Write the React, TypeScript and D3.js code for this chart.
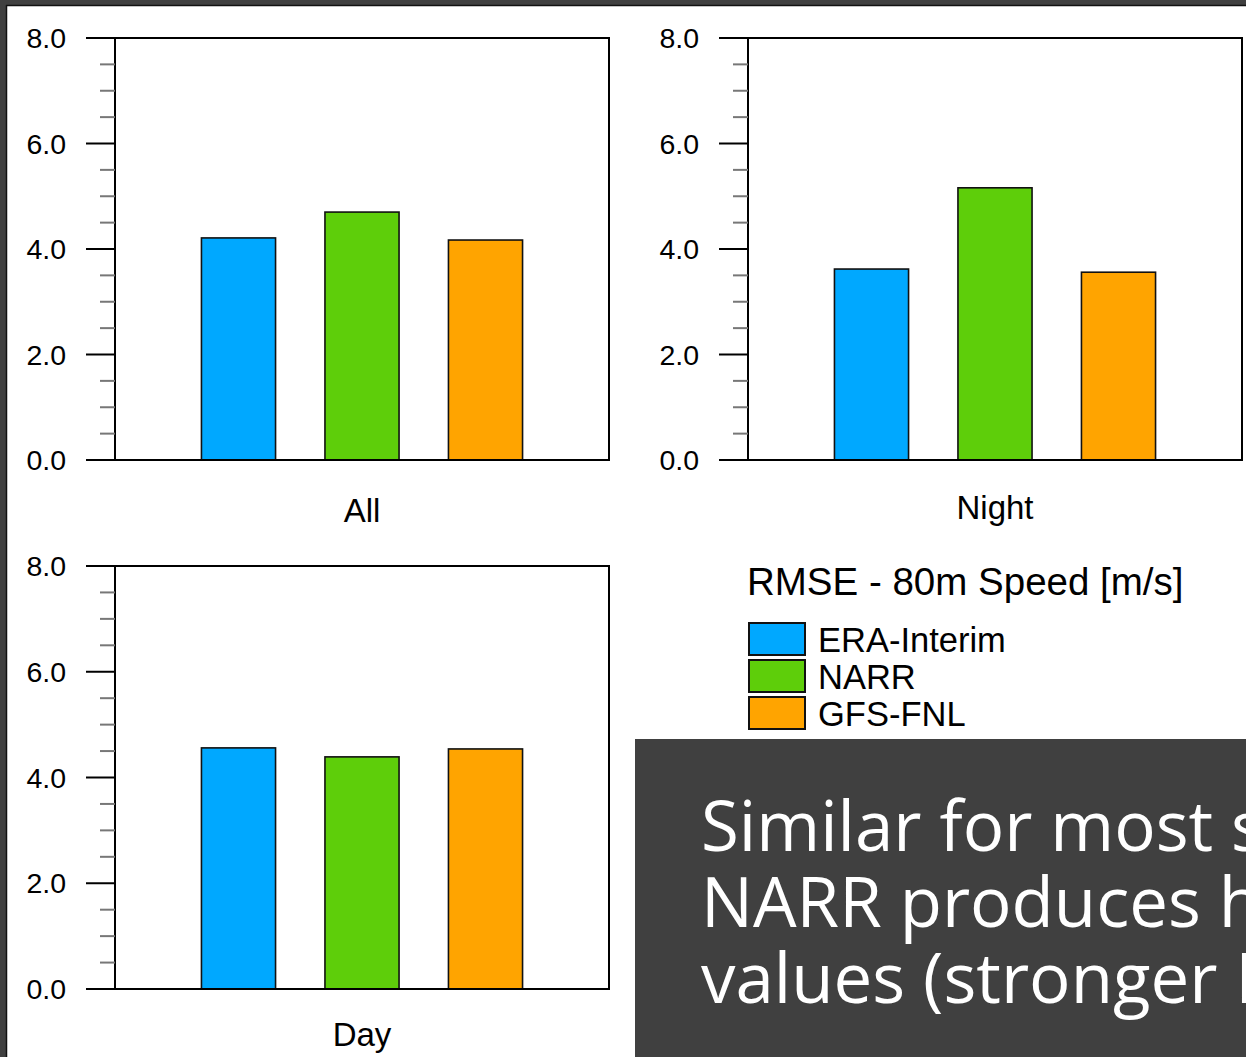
import React, { useEffect } from "react";
import * as d3 from "d3";

const periods = ["All", "Night", "Day"];
const datasets = ["ERA-Interim", "NARR", "GFS-FNL"];
const eraValues = [4.21, 3.62, 4.56];
const narrValues = [4.7, 5.16, 4.39];
const gfsValues = [4.17, 3.56, 4.54];
const yTickValues = [0, 2, 4, 6, 8];
const colors = ["#00A8FF", "#5ECE0A", "#FFA400"];
const legendTitle = "RMSE - 80m Speed [m/s]";
const noteLines = ["Similar for most stations", "NARR produces higher", "values (stronger LLJ)"];

const panels = [
  { left: 115, top: 38, bottom: 460, labelY: 522 },
  { left: 748, top: 38, bottom: 460, labelY: 519 },
  { left: 115, top: 566, bottom: 989, labelY: 1046 },
];
const plotW = 494;
const font = "'Liberation Sans', Arial, Helvetica, sans-serif";

function Panel({ idx }: { idx: number }) {
  const p = panels[idx];
  const x = d3.scaleLinear().domain([0, 4]).range([p.left, p.left + plotW]);
  const y = d3.scaleLinear().domain([0, 8]).range([p.bottom, p.top]);
  const vals = [eraValues[idx], narrValues[idx], gfsValues[idx]];
  const minor = d3.range(0, 8.001, 0.5).filter((v) => Math.abs(v % 2) > 1e-6);
  const bw = 0.6;
  return (
    <g>
      {vals.map((v, i) => (
        <rect
          key={i}
          x={x(i + 1 - bw / 2)}
          y={y(v)}
          width={x(bw) - x(0)}
          height={y(0) - y(v)}
          fill={colors[i]}
          stroke="#111"
          strokeWidth={1.6}
        />
      ))}
      <rect x={p.left} y={p.top} width={plotW} height={p.bottom - p.top} fill="none" stroke="#000" strokeWidth={2} />
      {minor.map((v) => (
        <line key={"m" + v} x1={p.left - 15} x2={p.left} y1={y(v)} y2={y(v)} stroke="#777" strokeWidth={2} />
      ))}
      {yTickValues.map((v) => (
        <g key={"t" + v}>
          <line x1={p.left - 29} x2={p.left} y1={y(v)} y2={y(v)} stroke="#000" strokeWidth={2} />
          <text
            x={p.left - 49}
            y={y(v)}
            textAnchor="end"
            dominantBaseline="central"
            fontFamily={font}
            fontSize={28.5}
            fill="#000"
          >
            {d3.format(".1f")(v)}
          </text>
        </g>
      ))}
      <text x={x(2)} y={p.labelY} textAnchor="middle" fontFamily={font} fontSize={33} fill="#000">
        {periods[idx]}
      </text>
    </g>
  );
}

export default function App() {
  useEffect(() => {
    document.body.style.margin = "0";
  }, []);
  const legendRows = d3.range(datasets.length);
  return (
    <svg width={1246} height={1057} style={{ display: "block", background: "#fff" }}>
      <defs>
        <clipPath id="noteClip">
          <rect x={635} y={739} width={611} height={318} />
        </clipPath>
      </defs>
      <rect x={0} y={0} width={1246} height={1057} fill="#fff" />
      <rect x={0} y={0} width={1246} height={6} fill="#404040" />
      <rect x={0} y={0} width={7} height={1057} fill="#404040" />
      <line x1={6} x2={1246} y1={5.5} y2={5.5} stroke="#111" strokeWidth={1.5} />
      <line x1={6.5} x2={6.5} y1={5} y2={1057} stroke="#111" strokeWidth={1.5} />
      {periods.map((_, i) => (
        <Panel key={i} idx={i} />
      ))}
      <text x={747} y={595} fontFamily={font} fontSize={38.5} fill="#000">
        {legendTitle}
      </text>
      {legendRows.map((i) => (
        <g key={i}>
          <rect x={749} y={623 + i * 37} width={56} height={32} fill={colors[i]} stroke="#111" strokeWidth={2} />
          <text x={818} y={652 + i * 37} fontFamily={font} fontSize={34.5} fill="#000">
            {datasets[i]}
          </text>
        </g>
      ))}
      <rect x={635} y={739} width={611} height={318} fill="#404040" />
      <g clipPath="url(#noteClip)">
        {noteLines.map((t, i) => (
          <text key={i} x={701} y={851 + i * 76} fontFamily="'Open Sans', sans-serif" fontSize={69} fill="#fff">
            {t}
          </text>
        ))}
      </g>
    </svg>
  );
}
